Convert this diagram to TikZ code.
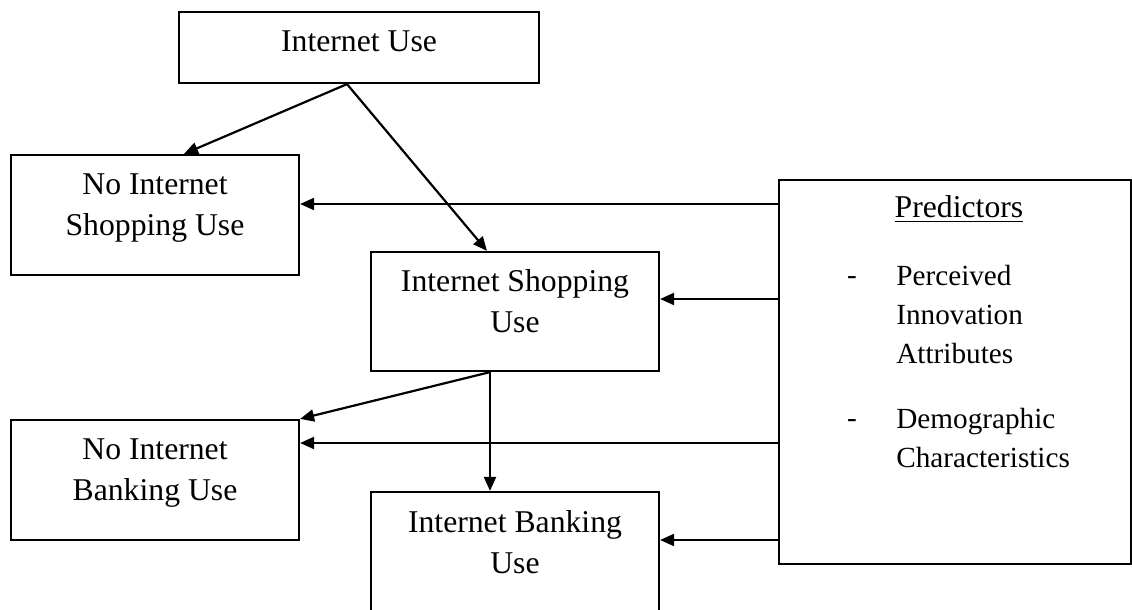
\documentclass[tikz,border=0pt]{standalone}
\usepackage{fontspec}
\setmainfont{Liberation Serif}
\usetikzlibrary{arrows.meta,positioning,calc}

\begin{document}
\begin{tikzpicture}[x=0.5pt,y=-0.5pt,
   box/.style={draw,line width=1.1pt,minimum width=144pt,minimum height=60pt,inner sep=0pt},
   txt/.style={font=\fontsize{15.85}{20.75}\selectfont,align=center,inner sep=0pt,anchor=north},
   lst/.style={font=\fontsize{14.6}{19.5}\selectfont,align=left,inner sep=0pt,anchor=north west},
   arr/.style={-{Triangle[length=7pt,width=6pt]},line width=1.1pt}]
  \useasboundingbox (0,0) rectangle (1132,610);
  % boxes
  \node[box,minimum width=180pt,minimum height=35.5pt] (iuse) at (359,47.5) {};
  \node[box] (nshop) at (155,215) {};
  \node[box,minimum height=59.5pt] (ishop) at (515,311.5) {};
  \node[box] (nbank) at (155,480) {};
  \node[box,minimum height=74pt] (ibank) at (515,566) {};
  \node[box,minimum width=176pt,minimum height=192pt] (pred) at (955,372) {};
  % texts
  \node[txt] (iuse-t) at ([yshift=-9.5pt]iuse.north) {Internet Use};
  \node[txt] (nshop-t) at ([yshift=-9.5pt]nshop.north) {No Internet\\Shopping Use};
  \node[txt] (ishop-t) at ([yshift=-9pt]ishop.north) {Internet Shopping\\Use};
  \node[txt] (nbank-t) at ([yshift=-9.5pt]nbank.north) {No Internet\\Banking Use};
  \node[txt] (ibank-t) at ([yshift=-9.5pt]ibank.north) {Internet Banking\\Use};
  \node[txt] (pred-t) at ([xshift=2pt,yshift=-8.25pt]pred.north) {\underline{Predictors}};
  \node[lst] (perc) at (896,265) {Perceived\\Innovation\\Attributes};
  \node[lst] (demo) at (896,408) {Demographic\\Characteristics};
  \node[lst,anchor=base] (perc-d) at (852,285) {-};
  \node[lst,anchor=base] (demo-d) at (852,428) {-};
  % arrows
  \draw[arr] ([xshift=-6pt]iuse.south) -- ([xshift=14.5pt]nshop.north);
  \draw[arr] ([xshift=-6pt]iuse.south) -- ([xshift=-14pt]ishop.north);
  \coordinate (a1) at ([yshift=5.5pt]nshop.east);
  \draw[arr] (a1 -| pred.west) -- (a1);
  \coordinate (a2) at ([yshift=6.25pt]ishop.east);
  \draw[arr] (a2 -| pred.west) -- (a2);
  \draw[arr] ([xshift=-12.5pt]ishop.south) -- (nbank.north east);
  \draw[arr] ([xshift=-12.5pt]ishop.south) -- ([xshift=-12.5pt]ibank.north);
  \coordinate (a3) at ([yshift=18.5pt]nbank.east);
  \draw[arr] (a3 -| pred.west) -- (a3);
  \coordinate (a4) at ([yshift=13pt]ibank.east);
  \draw[arr] (a4 -| pred.west) -- (a4);
\end{tikzpicture}
\end{document}
